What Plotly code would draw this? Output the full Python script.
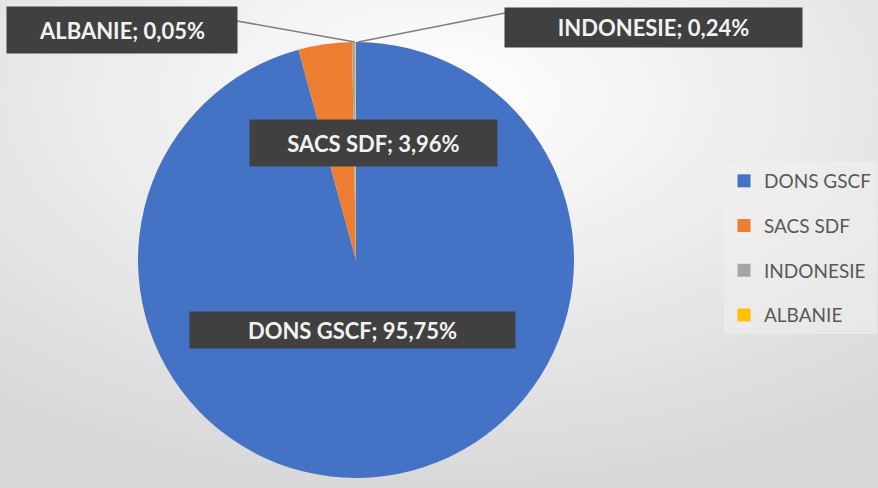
import plotly.graph_objects as go

categories = ["DONS GSCF", "SACS SDF", "INDONESIE", "ALBANIE"]
values = [95.75, 3.96, 0.24, 0.05]
colors = ["#4472C4", "#ED7D31", "#A5A5A5", "#FFC000"]
label_texts = ["DONS GSCF; 95,75%", "SACS SDF; 3,96%", "INDONESIE; 0,24%", "ALBANIE; 0,05%"]

W, H = 878, 488

fig = go.Figure()
fig.add_trace(go.Pie(
    labels=categories, values=values, sort=False, direction="clockwise", rotation=0,
    marker=dict(colors=colors, line=dict(width=0)),
    textinfo="none", hoverinfo="label+percent", showlegend=False,
    domain=dict(x=[138 / W, 574 / W], y=[1 - 478 / H, 1 - 42 / H]),
))

# legend entries (one per category, spaced like the reference)
for c, col in zip(categories, colors):
    fig.add_trace(go.Scatter(
        x=[None], y=[None], mode="markers", name=c, legendgroup=c,
        marker=dict(symbol="square", size=13, color=col),
    ))

# data label boxes: (center x, center y, width, height) in pixels
boxes = {
    "DONS GSCF": (352, 330, 325, 36),
    "SACS SDF": (373, 143, 247, 46),
    "INDONESIE": (653, 28, 297, 39),
    "ALBANIE": (122, 30, 230, 46),
}
annotations = []
for c, t in zip(categories, label_texts):
    cx, cy, bw, bh = boxes[c]
    annotations.append(dict(
        x=cx / W, y=1 - cy / H, xref="paper", yref="paper", xanchor="center", yanchor="middle",
        text="<b>" + t + "</b>",
        showarrow=False, bgcolor="#404040", borderpad=0, width=bw, height=bh,
        font=dict(family="Lato", size=22, color="#f2f2f2"), align="center", valign="middle",
    ))

shapes = [
    dict(type="line", xref="paper", yref="paper", x0=237 / W, y0=1 - 21 / H, x1=355 / W, y1=1 - 42 / H,
         line=dict(color="#7f7f7f", width=1.5), layer="below"),
    dict(type="line", xref="paper", yref="paper", x0=505 / W, y0=1 - 13 / H, x1=358 / W, y1=1 - 42 / H,
         line=dict(color="#7f7f7f", width=1.5), layer="below"),
]

svg = ("data:image/svg+xml;utf8,<svg xmlns='http://www.w3.org/2000/svg' width='878' height='488'>"
       "<defs><radialGradient id='g' cx='50%' cy='20%' r='80%'>"
       "<stop offset='0%' stop-color='%23ffffff'/><stop offset='100%' stop-color='%23d8d8d8'/>"
       "</radialGradient></defs><rect width='878' height='488' fill='url(%23g)'/></svg>")

fig.update_layout(
    width=W, height=H, margin=dict(l=0, r=0, t=0, b=0),
    paper_bgcolor="#ededed", plot_bgcolor="rgba(0,0,0,0)",
    xaxis=dict(visible=False), yaxis=dict(visible=False),
    images=[dict(source=svg, xref="paper", yref="paper", x=0, y=1, sizex=1, sizey=1,
                 sizing="stretch", layer="below")],
    annotations=annotations, shapes=shapes,
    legend=dict(x=724 / W, y=1 - 162 / H, xanchor="left", yanchor="top",
                font=dict(family="Lato", size=19, color="#595959"),
                tracegroupgap=17, bgcolor="rgba(240,240,240,0.55)", itemwidth=30),
)

fig.write_html("out.html", config={"displayModeBar": False},
               post_script="document.body.style.margin='0';")
